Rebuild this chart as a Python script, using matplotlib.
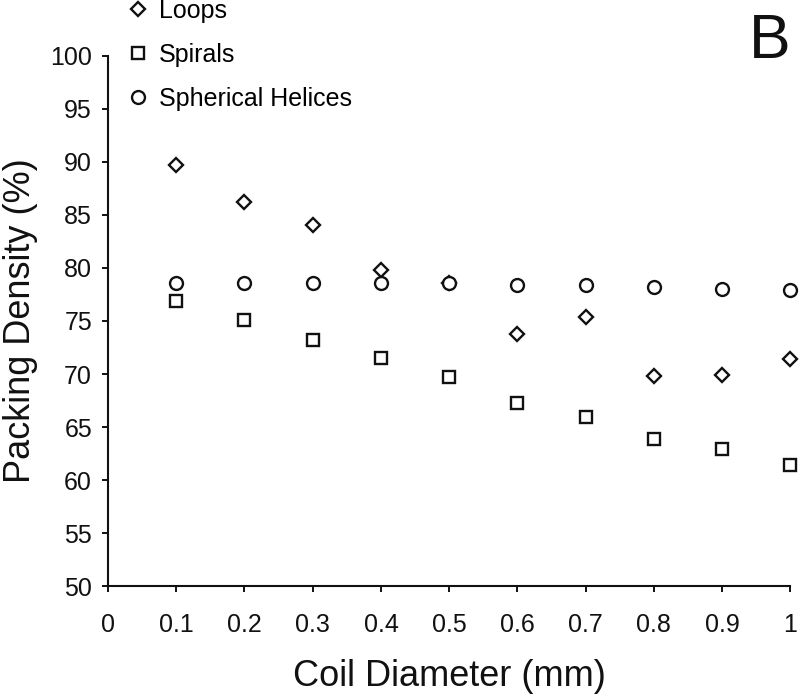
import matplotlib
matplotlib.use('Agg')
import matplotlib.pyplot as plt

plt.rcParams['font.family'] = ['Liberation Sans', 'DejaVu Sans']

# coil diameter (mm)
diameter = [0.1, 0.2, 0.3, 0.4, 0.5, 0.6, 0.7, 0.8, 0.9, 1.0]
# packing density (%)
loops = [89.7, 86.2, 84.0, 79.8, 78.6, 73.8, 75.4, 69.8, 69.9, 71.4]
spirals = [76.9, 75.1, 73.2, 71.5, 69.7, 67.3, 66.0, 63.9, 62.9, 61.4]
helices = [78.6, 78.6, 78.6, 78.6, 78.6, 78.4, 78.4, 78.2, 78.0, 77.9]

x_ticks = [0, 0.1, 0.2, 0.3, 0.4, 0.5, 0.6, 0.7, 0.8, 0.9, 1.0]
x_labels = ['0', '0.1', '0.2', '0.3', '0.4', '0.5', '0.6', '0.7', '0.8', '0.9', '1']
y_ticks = [50, 55, 60, 65, 70, 75, 80, 85, 90, 95, 100]

ink = '#111111'

fig = plt.figure(figsize=(8, 6.96), dpi=100)
ax = fig.add_axes([0.135, 0.1576, 0.853, 0.7624])

mk = dict(linestyle='none', markerfacecolor='white', markeredgecolor=ink,
          markeredgewidth=1.7, clip_on=False)
ax.plot(diameter, loops, marker='D', markersize=7.2, label='Loops', **mk)
ax.plot(diameter, spirals, marker='s', markersize=9.3, label='Spirals', **mk)
ax.plot(diameter, helices, marker='o', markersize=9.3, label='Spherical Helices', **mk)

ax.set_xlim(0, 1)
ax.set_ylim(50, 100)
ax.set_xticks(x_ticks)
ax.set_xticklabels(x_labels)
ax.set_yticks(y_ticks)

for s in ['top', 'right']:
    ax.spines[s].set_visible(False)
for s in ['left', 'bottom']:
    ax.spines[s].set_linewidth(1.5)
    ax.spines[s].set_color(ink)

ax.tick_params(axis='both', direction='out', length=4.5, width=1.4,
               colors=ink, labelsize=18)
ax.tick_params(axis='x', pad=15)
ax.tick_params(axis='y', pad=7)

ax.set_xlabel('Coil Diameter (mm)', fontsize=26, color=ink)
ax.xaxis.set_label_coords(0.5, -0.137, transform=ax.transAxes)
ax.xaxis.label.set_va('top')
ax.set_ylabel('Packing Density (%)', fontsize=26, color=ink)
ax.yaxis.set_label_coords(-0.103, 0.5, transform=ax.transAxes)

ax.legend(loc='upper left', bbox_to_anchor=(125.5 / 800, 1 + 1.0 / 696),
          bbox_transform=fig.transFigure, frameon=False, fontsize=18,
          numpoints=1, handlelength=1.0, handletextpad=0.34,
          labelspacing=0.8, borderaxespad=0, borderpad=0)

fig.text(790 / 800, 1 - 58.3 / 696, 'B', fontsize=45, color=ink,
         ha='right', va='baseline')

fig.savefig('out.png', dpi=100)
